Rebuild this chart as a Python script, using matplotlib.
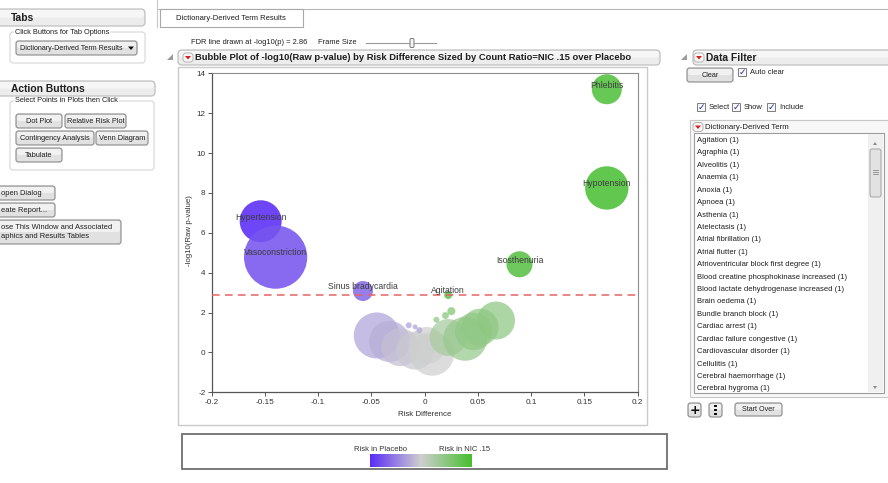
import matplotlib
matplotlib.use("Agg")
import matplotlib.pyplot as plt
from matplotlib.patches import FancyBboxPatch, Rectangle, Polygon
from matplotlib.colors import LinearSegmentedColormap
import numpy as np

# ---- significant (labelled) terms ----
terms = ["Phlebitis", "Hypotension", "Hypertension", "Vasoconstriction",
         "Isosthenuria", "Sinus bradycardia", "Agitation"]
risk_diff = [0.171, 0.171, -0.154, -0.140, 0.089, -0.058, 0.022]
neg_log10_p = [13.2, 8.25, 6.58, 4.78, 4.42, 3.08, 2.88]
count_ratio = [2.25, 4.7, 4.4, 10.0, 1.7, 1.0, 0.16]
risk_shade = [0.9, 0.95, -1.0, -0.75, 0.85, -0.6, 0.75]

# ---- remaining terms (below the FDR line) ----
other_risk_diff = [-0.045, -0.033, -0.023, -0.009, 0.007, 0.002, 0.022,
                   0.038, 0.046, 0.052, 0.067, 0.025, 0.0195, 0.011,
                   -0.015, -0.009, -0.005]
other_neg_log10_p = [0.85, 0.55, 0.26, 0.09, -0.07, 0.35, 0.75,
                     0.68, 1.05, 1.27, 1.6, 2.07, 1.85, 1.64,
                     1.36, 1.28, 1.12]
other_count_ratio = [5.3, 4.2, 3.6, 3.6, 4.8, 3.4, 3.4,
                     4.8, 3.5, 3.4, 3.6, 0.16, 0.12, 0.09,
                     0.09, 0.06, 0.09]
other_risk_shade = [-0.26, -0.2, -0.1, -0.04, 0.0, 0.0, 0.3,
                    0.4, 0.45, 0.45, 0.48, 0.6, 0.55, 0.5,
                    -0.3, -0.3, -0.25]

fdr_threshold = 2.86
x_ticks = [-0.2, -0.15, -0.1, -0.05, 0, 0.05, 0.1, 0.15, 0.2]
x_tick_labels = ["-0.2", "-0.15", "-0.1", "-0.05", "0", "0.05", "0.1", "0.15", "0.2"]
y_ticks = [-2, 0, 2, 4, 6, 8, 10, 12, 14]
y_tick_labels = ["-2", "0", "2", "4", "6", "8", "10", "12", "14"]

filter_terms = ["Agitation (1)", "Agraphia (1)", "Alveolitis (1)", "Anaemia (1)",
                "Anoxia (1)", "Apnoea (1)", "Asthenia (1)", "Atelectasis (1)",
                "Atrial fibrillation (1)", "Atrial flutter (1)",
                "Atrioventricular block first degree (1)",
                "Blood creatine phosphokinase increased (1)",
                "Blood lactate dehydrogenase increased (1)", "Brain oedema (1)",
                "Bundle branch block (1)", "Cardiac arrest (1)",
                "Cardiac failure congestive (1)", "Cardiovascular disorder (1)",
                "Cellulitis (1)", "Cerebral haemorrhage (1)", "Cerebral hygroma (1)"]

W, H = 888, 483
plt.rcParams['font.family'] = ['Liberation Sans', 'DejaVu Sans']
fig = plt.figure(figsize=(W / 100, H / 100), dpi=100)
fig.patch.set_facecolor("white")

# pixel-space canvas for the surrounding window controls
ui = fig.add_axes([0, 0, 1, 1], zorder=0)
ui.set_xlim(0, W)
ui.set_ylim(H, 0)
ui.axis("off")

TXT = "#1e1e1e"


def rbox(x0, y0, x1, y1, fc="#eeeeee", ec="#a0a0a0", r=3, lw=0.8, z=1):
    p = FancyBboxPatch((x0, y0), x1 - x0, y1 - y0,
                       boxstyle=f"round,pad=0,rounding_size={r}",
                       fc=fc, ec=ec, lw=lw, zorder=z)
    ui.add_patch(p)
    return p


def button(x0, y0, x1, y1, label, fs=5.3):
    rbox(x0, y0, x1, y1, fc="#e1e1e1", ec="#8a8a8a", r=2.5, lw=0.8)
    rbox(x0 + 1, y0 + 1, x1 - 1, (y0 + y1) / 2, fc="#f1f1f1", ec="none", r=2, lw=0, z=1.1)
    ui.text((x0 + x1) / 2, (y0 + y1) / 2 + 0.3, label, fontsize=fs, color=TXT,
            ha="center", va="center", zorder=2)


def header(x0, y0, x1, y1, label, fs=7.4, dx=4):
    rbox(x0, y0, x1, y1, fc="#ececec", ec="#c0c0c0", r=4, lw=0.9)
    rbox(x0 + 1, y0 + 1, x1 - 1, (y0 + y1) / 2, fc="#f6f6f6", ec="none", r=3, lw=0, z=1.1)
    ui.text(x0 + dx, (y0 + y1) / 2 + 0.3, label, fontsize=fs, fontweight="bold",
            color=TXT, ha="left", va="center", zorder=2)


def red_icon(x, y):
    rbox(x - 5, y - 4.5, x + 5, y + 4.5, fc="#f6f6f6", ec="#b5b5b5", r=3, lw=0.7, z=2)
    ui.add_patch(Polygon([[x - 3, y - 1.5], [x + 3, y - 1.5], [x, y + 2]],
                         closed=True, fc="#d81f1f", ec="none", zorder=3))


def disclosure(x, y):
    ui.add_patch(Polygon([[x - 3, y + 3], [x + 3, y + 3], [x + 3, y - 3]],
                         closed=True, fc="#9a9a9a", ec="none", zorder=3))


def checkbox(x, y):
    ui.add_patch(Rectangle((x - 4, y - 4), 8, 8, fc="#f8f8f8", ec="#7d7d7d", lw=0.7, zorder=2))
    ui.text(x + 0.3, y + 0.2, "\u2713", fontsize=6.5, color="#1c2f9c", ha="center",
            va="center", fontweight="bold", zorder=3, family="DejaVu Sans")


def groupbox(x0, y0, x1, y1, label, fs=5.3):
    rbox(x0, y0, x1, y1, fc="white", ec="#d6d6d6", r=3, lw=0.8)
    ui.text(x0 + 5, y0, label, fontsize=fs, color=TXT, ha="left", va="center",
            zorder=2, bbox=dict(fc="white", ec="none", pad=0.6))


# ---- tab strip ----
ui.plot([157, W], [9, 9], color="#b8b8b8", lw=0.8, zorder=1)
ui.plot([157, 157], [0, 27], color="#c8c8c8", lw=0.8, zorder=1)
ui.add_patch(Rectangle((160, 9), 143, 18, fc="white", ec="#a8a8a8", lw=0.8, zorder=2))
ui.text(231, 18.5, "Dictionary-Derived Term Results", fontsize=5.5, color=TXT,
        ha="center", va="center", zorder=3)

# ---- left control panel ----
header(-6, 9, 145, 26, "Tabs", dx=17)
groupbox(10, 32, 145, 63, "Click Buttons for Tab Options")
rbox(16, 41, 137, 55, fc="#e1e1e1", ec="#8a8a8a", r=2.5)
rbox(17, 42, 136, 48, fc="#f1f1f1", ec="none", r=2, lw=0, z=1.1)
ui.text(20, 48.3, "Dictionary-Derived Term Results", fontsize=5.1, color=TXT,
        ha="left", va="center", zorder=2)
ui.add_patch(Polygon([[128, 46.5], [134, 46.5], [131, 50]], closed=True,
                     fc="#111111", ec="none", zorder=3))

header(-6, 81, 155, 96, "Action Buttons", dx=17)
groupbox(10, 101, 154, 170, "Select Points in Plots then Click")
button(16, 114, 62, 128, "Dot Plot")
button(65, 114, 126, 128, "Relative Risk Plot")
button(16, 131, 94, 145, "Contingency Analysis")
button(96, 131, 148, 145, "Venn Diagram")
button(16, 148, 62, 162, "Tabulate")

button(-6, 186, 55, 200, "")
ui.text(1, 193.3, "open Dialog", fontsize=5.4, color=TXT, ha="left", va="center", zorder=2)
button(-6, 203, 55, 217, "")
ui.text(1, 210.3, "eate Report...", fontsize=5.4, color=TXT, ha="left", va="center", zorder=2)
button(-6, 220, 121, 244, "")
ui.text(1, 227.5, "ose This Window and Associated", fontsize=5.4, color=TXT,
        ha="left", va="center", zorder=2)
ui.text(1, 236.5, "aphics and Results Tables", fontsize=5.4, color=TXT,
        ha="left", va="center", zorder=2)

# ---- report header above the chart ----
ui.text(191, 43, "FDR line drawn at -log10(p) = 2.86", fontsize=5.4, color=TXT,
        ha="left", va="center")
ui.text(318, 43, "Frame Size", fontsize=5.4, color=TXT, ha="left", va="center")
ui.plot([366, 436], [43, 43], color="#9a9a9a", lw=0.8)
rbox(410, 38.5, 414, 47.5, fc="#f2f2f2", ec="#7a7a7a", r=1.2, lw=0.7, z=2)

header(178, 50, 660, 65, "", fs=6.8)
disclosure(170, 57)
red_icon(188, 57.5)
ui.text(195, 57.8, "Bubble Plot of -log10(Raw p-value) by Risk Difference Sized by "
        "Count Ratio=NIC .15 over Placebo", fontsize=6.75, fontweight="bold",
        color=TXT, ha="left", va="center", zorder=3)

# chart frame and colour legend frame
ui.add_patch(Rectangle((178, 67), 469, 358, fc="white", ec="#cbcbcb", lw=1.0, zorder=1))
ui.add_patch(Rectangle((182, 434), 485, 35, fc="white", ec="#6e6e6e", lw=1.3, zorder=1))
ui.text(380, 449.5, "Risk in Placebo", fontsize=5.5, color="#333333",
        ha="center", va="center", zorder=2)
ui.text(465, 449.5, "Risk in NIC .15", fontsize=5.5, color="#333333",
        ha="center", va="center", zorder=2)

# axis titles
ui.text(424.5, 415, "Risk Difference", fontsize=5.7, color="#333333",
        ha="center", va="center", zorder=2)
ui.text(189, 231, "-log10(Raw p-value)", fontsize=5.7, color="#333333",
        ha="center", va="center", rotation=90, zorder=2)

# ---- data filter panel ----
header(693, 50, W + 6, 65, "Data Filter", dx=13)
disclosure(684, 57)
red_icon(699, 57.5)
button(687, 68, 733, 82, "Clear")
checkbox(742, 72)
ui.text(750, 72.5, "Auto clear", fontsize=5.4, color=TXT, ha="left", va="center")
for cx, lab in [(701, "Select"), (736, "Show"), (771, "Include")]:
    checkbox(cx, 107)
    ui.text(cx + 8, 107.5, lab, fontsize=5.4, color=TXT, ha="left", va="center")

ui.add_patch(Rectangle((690, 120), 200, 277, fc="#f7f7f7", ec="#c8c8c8", lw=0.8, zorder=1))
red_icon(698, 127)
ui.text(705, 127.5, "Dictionary-Derived Term", fontsize=5.6, color=TXT,
        ha="left", va="center", zorder=2)
ui.add_patch(Rectangle((694, 133), 190, 260, fc="white", ec="#9c9c9c", lw=0.8, zorder=1.5))
for i, name in enumerate(filter_terms):
    ui.text(697, 140.5 + 12.42 * i, name, fontsize=5.5, color=TXT,
            ha="left", va="center", zorder=2)
# scroll bar
ui.add_patch(Rectangle((868, 134), 15, 258, fc="#f0f0f0", ec="none", zorder=1.8))
ui.add_patch(Polygon([[873, 145], [877, 145], [875, 142]], closed=True,
                     fc="#8a8a8a", ec="none", zorder=2))
ui.add_patch(Polygon([[873, 386], [877, 386], [875, 389]], closed=True,
                     fc="#8a8a8a", ec="none", zorder=2))
rbox(870, 149, 881, 197, fc="#e2e2e2", ec="#a3a3a3", r=2, lw=0.7, z=2)
for gy in (170, 172, 174):
    ui.plot([873, 878], [gy, gy], color="#8a8a8a", lw=0.6, zorder=3)

# buttons under the filter list
button(688, 403, 701, 417, "")
ui.text(694.5, 410, "+", fontsize=9, fontweight="bold", color="#111111",
        ha="center", va="center", zorder=3, family="DejaVu Sans")
button(709, 403, 722, 417, "")
for gy in (406, 410, 414):
    ui.add_patch(Rectangle((714.3, gy - 1.2), 2.4, 2.4, fc="#111111", ec="none", zorder=3))
button(735, 403, 782, 416, "Start Over", fs=5.1)

# ---- bubble plot ----
cmap = LinearSegmentedColormap.from_list("risk", ["#5a2cf7", "#cfcfcf", "#46bf2e"])
px_to_pt = 72 / 100
size_scale = (2 * 10 * px_to_pt) ** 2   # count ratio of 1 -> 10 px radius

ax = fig.add_axes([211.7 / W, (H - 392.3) / H, 426.0 / W, 319.0 / H], zorder=2)
ax.set_xlim(-0.2, 0.2)
ax.set_ylim(-2, 14)
ax.set_facecolor("white")

other_colors = cmap((np.array(other_risk_shade) + 1) / 2)
ax.scatter(other_risk_diff, other_neg_log10_p,
           s=np.array(other_count_ratio) * size_scale,
           c=other_colors, alpha=0.72, edgecolors="none", zorder=2)

label_colors = cmap((np.array(risk_shade) + 1) / 2)
order = [2, 3, 5, 6, 4, 1, 0]
for i in order:
    ax.scatter([risk_diff[i]], [neg_log10_p[i]], s=count_ratio[i] * size_scale,
               color=label_colors[i], alpha=0.88, edgecolors="none", zorder=3)
for i in order:
    ax.annotate(terms[i], (risk_diff[i], neg_log10_p[i]), xytext=(0, 3),
                textcoords="offset points", ha="center", va="center",
                fontsize=6.2, color="#3c3c3c", zorder=5)

ax.axhline(fdr_threshold, color="#e46464", lw=1.1, ls=(0, (5, 3.5)), zorder=4)

ax.set_xticks(x_ticks)
ax.set_xticklabels(x_tick_labels)
ax.set_yticks(y_ticks)
ax.set_yticklabels(y_tick_labels)
ax.tick_params(direction="out", length=3, width=0.7, colors="#555555",
               labelsize=5.9, labelcolor="#333333", pad=1.5)
for side in ("left", "bottom"):
    ax.spines[side].set_color("#555555")
    ax.spines[side].set_linewidth(0.9)
for side in ("top", "right"):
    ax.spines[side].set_color("#8c8c8c")
    ax.spines[side].set_linewidth(0.8)

# colour gradient in the legend box
cax = fig.add_axes([370 / W, (H - 467) / H, 102 / W, 13 / H], zorder=2)
cax.imshow(np.linspace(0, 1, 256)[None, :], aspect="auto", cmap=cmap)
cax.axis("off")

fig.savefig("out.png", dpi=100)
